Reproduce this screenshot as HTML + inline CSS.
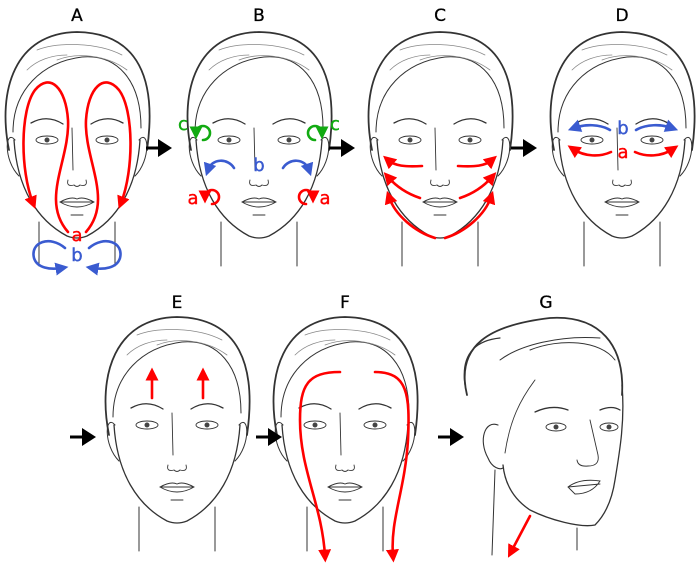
<!DOCTYPE html>
<html><head><meta charset="utf-8"><style>
html,body{margin:0;padding:0;background:#fff;width:698px;height:571px;overflow:hidden}
text{font-family:"DejaVu Sans","Liberation Sans",sans-serif}
</style></head><body>
<svg width="698" height="571" viewBox="0 0 698 571" xmlns="http://www.w3.org/2000/svg">
<defs>
<g id="face" fill="none" stroke="#333" stroke-linecap="round">
<path d="M-68,150 C-80,90 -62,33 0,32 C62,33 80,80 70,150" stroke-width="1.8"/>
<path d="M-64,132 C-64,90 -35,62 5,57 C40,54 64,80 64,128" stroke-width="1"/>
<path d="M-40,50 C-20,42 20,42 45,55 M-20,60 C0,52 30,55 50,70 M-50,70 C-40,60 -25,55 -10,55" stroke="#888" stroke-width="0.8"/>
<path d="M-63,140 C-60,188 -40,220 -10,236 Q0,240 10,236 C40,220 60,188 63,140" stroke-width="1.3"/>
<path d="M-62,140 C-72,128 -74,160 -58,176 M62,140 C72,128 74,160 58,176" stroke-width="1"/>
<path d="M-38,222 L-38,266 M38,222 L38,266" stroke-width="1"/>
<path d="M-46,123 Q-30,114 -14,124 M46,123 Q30,114 14,124" stroke-width="1.3"/>
<ellipse cx="-30" cy="140" rx="11" ry="4" stroke-width="0.9"/>
<ellipse cx="30" cy="140" rx="11" ry="4" stroke-width="0.9"/>
<circle cx="-30" cy="140" r="2.5" fill="#444" stroke="none"/>
<circle cx="30" cy="140" r="2.5" fill="#444" stroke="none"/>
<path d="M-5,128 L-4,170 M-9,180 Q-11,187 -3,185 Q0,188 3,185 Q11,187 9,180" stroke-width="0.9"/>
<path d="M-17,202 Q-6,196 0,199 Q6,196 17,202 Q0,212 -17,202 Z M-17,202 L17,202 M-6,215 L6,215" stroke-width="0.9"/>
</g>
<marker id="ar" viewBox="0 0 10 10" refX="5" refY="5" markerWidth="5" markerHeight="5" orient="auto"><path d="M0,0 L10,5 L0,10 Z" fill="#f00"/></marker>
<marker id="ab" viewBox="0 0 10 10" refX="5" refY="5" markerWidth="5" markerHeight="5" orient="auto"><path d="M0,0 L10,5 L0,10 Z" fill="#3a5bd0"/></marker>
<marker id="ag" viewBox="0 0 10 10" refX="5" refY="5" markerWidth="5" markerHeight="5" orient="auto"><path d="M0,0 L10,5 L0,10 Z" fill="#1a1"/></marker>
<g id="blk"><rect x="-14" y="-1.5" width="14" height="3" fill="#000"/><path d="M-2,-9 L12,0 L-2,9 Z" fill="#000"/></g>
</defs>

<g font-size="17" text-anchor="middle" fill="#000" stroke="#000" stroke-width="0.3">
<text x="77" y="21">A</text><text x="259" y="21">B</text><text x="440" y="21">C</text><text x="622" y="21">D</text>
<text x="177" y="308">E</text><text x="345" y="308">F</text><text x="546" y="308">G</text>
</g>

<use href="#face" transform="translate(77,0)"/>
<use href="#face" transform="translate(259,0)"/>
<use href="#face" transform="translate(440,0)"/>
<use href="#face" transform="translate(622,0)"/>
<use href="#face" transform="translate(177,285)"/>
<use href="#face" transform="translate(345,285)"/>

<!-- G face -->
<g fill="none" stroke="#333" stroke-linecap="round">
<path d="M467,395 C455,345 490,325 550,318 C600,315 625,345 622,395" stroke-width="1.8"/>
<path d="M465,385 C460,350 480,340 500,338" stroke-width="1.2"/>
<path d="M500,360 C520,345 560,335 600,338 M530,350 C560,338 600,340 615,360" stroke-width="1"/>
<path d="M505,453 C510,420 520,400 535,380" stroke-width="0.9"/>
<path d="M622,385 C625,420 620,450 615,480 C612,500 605,515 595,525 C580,528 550,520 530,510 C515,500 505,485 503,465" stroke-width="1.3"/>
<path d="M498,425 C485,420 478,440 488,458 C492,468 500,470 503,468" stroke-width="1.1"/>
<path d="M495,470 L492,555 M577,528 L577,550" stroke-width="1"/>
<path d="M535,412 Q552,404 568,410 M600,410 Q612,405 620,410" stroke-width="1.3"/>
<ellipse cx="556" cy="427" rx="10" ry="4" stroke-width="0.9"/><ellipse cx="609" cy="427" rx="9" ry="4" stroke-width="0.9"/>
<circle cx="556" cy="427" r="2.5" fill="#444" stroke="none"/><circle cx="609" cy="427" r="2.5" fill="#444" stroke="none"/>
<path d="M590,420 L598,455 Q600,466 588,466 Q578,467 577,460" stroke-width="0.9"/>
<path d="M568,487 Q580,478 600,481 Q592,494 575,494 Z M568,487 L600,484" stroke-width="0.9"/>
</g>

<use href="#blk" transform="translate(160,148)"/>
<use href="#blk" transform="translate(343,148)"/>
<use href="#blk" transform="translate(525,148)"/>
<use href="#blk" transform="translate(84,437)"/>
<use href="#blk" transform="translate(270,437)"/>
<use href="#blk" transform="translate(452,437)"/>

<g fill="none" stroke-width="2.6" stroke-linecap="round">
<path d="M68,232 C40,200 70,160 68,120 C66,88 50,72 35,90 C20,110 20,170 33,203" stroke="#f00" marker-end="url(#ar)"/>
<path d="M86,232 C114,200 84,160 86,120 C88,88 104,72 119,90 C134,110 134,170 121,203" stroke="#f00" marker-end="url(#ar)"/>
<path d="M65,248 C50,235 30,242 34,258 C37,268 50,270 62,268" stroke="#3a5bd0" marker-end="url(#ab)"/>
<path d="M89,248 C104,235 124,242 120,258 C117,268 104,270 92,268" stroke="#3a5bd0" marker-end="url(#ab)"/>
<path d="M203,140 A7,7 0 1 0 196,133" stroke="#1a1" marker-end="url(#ag)"/>
<path d="M315,140 A7,7 0 1 1 322,133" stroke="#1a1" marker-end="url(#ag)"/>
<path d="M234,168 C228,158 212,158 208,170" stroke="#3a5bd0" marker-end="url(#ab)"/>
<path d="M283,168 C289,158 305,158 309,170" stroke="#3a5bd0" marker-end="url(#ab)"/>
<path d="M212,204 A7,7 0 1 0 205,197" stroke="#f00" marker-end="url(#ar)"/>
<path d="M306,204 A7,7 0 1 1 313,197" stroke="#f00" marker-end="url(#ar)"/>
<path d="M422,166 C405,167 395,166 388,160" stroke="#f00" marker-end="url(#ar)"/>
<path d="M458,166 C475,167 485,166 492,160" stroke="#f00" marker-end="url(#ar)"/>
<path d="M420,198 C405,193 395,185 388,177" stroke="#f00" marker-end="url(#ar)"/>
<path d="M460,198 C475,193 485,185 492,177" stroke="#f00" marker-end="url(#ar)"/>
<path d="M435,238 C415,232 395,215 389,197" stroke="#f00" marker-end="url(#ar)"/>
<path d="M445,238 C465,232 485,215 491,197" stroke="#f00" marker-end="url(#ar)"/>
<path d="M610,130 C600,124 585,124 574,128" stroke="#3a5bd0" marker-end="url(#ab)"/>
<path d="M636,130 C646,124 661,124 672,128" stroke="#3a5bd0" marker-end="url(#ab)"/>
<path d="M611,152 C600,157 585,157 573,149" stroke="#f00" marker-end="url(#ar)"/>
<path d="M635,152 C646,157 661,157 673,149" stroke="#f00" marker-end="url(#ar)"/>
<path d="M152,398 L152,374" stroke="#f00" marker-end="url(#ar)"/>
<path d="M203,398 L203,374" stroke="#f00" marker-end="url(#ar)"/>
<path d="M340,372 C308,372 300,385 300,420 C300,470 322,505 325,556" stroke="#f00" marker-end="url(#ar)"/>
<path d="M375,372 C408,372 410,395 408,440 C405,490 390,520 393,556" stroke="#f00" marker-end="url(#ar)"/>
<path d="M530,516 L511,552" stroke="#f00" marker-end="url(#ar)"/>
</g>

<g font-size="18" text-anchor="middle" stroke-width="0.4">
<text x="77" y="241" fill="#f00" stroke="#f00">a</text><text x="77" y="261" fill="#3a5bd0" stroke="#3a5bd0">b</text>
<text x="183" y="130" fill="#1a1" stroke="#1a1">c</text><text x="335" y="130" fill="#1a1" stroke="#1a1">c</text>
<text x="259" y="171" fill="#3a5bd0" stroke="#3a5bd0">b</text>
<text x="193" y="204" fill="#f00" stroke="#f00">a</text><text x="325" y="204" fill="#f00" stroke="#f00">a</text>
<text x="623" y="134" fill="#3a5bd0" stroke="#3a5bd0">b</text><text x="623" y="158" fill="#f00" stroke="#f00">a</text>
</g>
</svg>
</body></html>
